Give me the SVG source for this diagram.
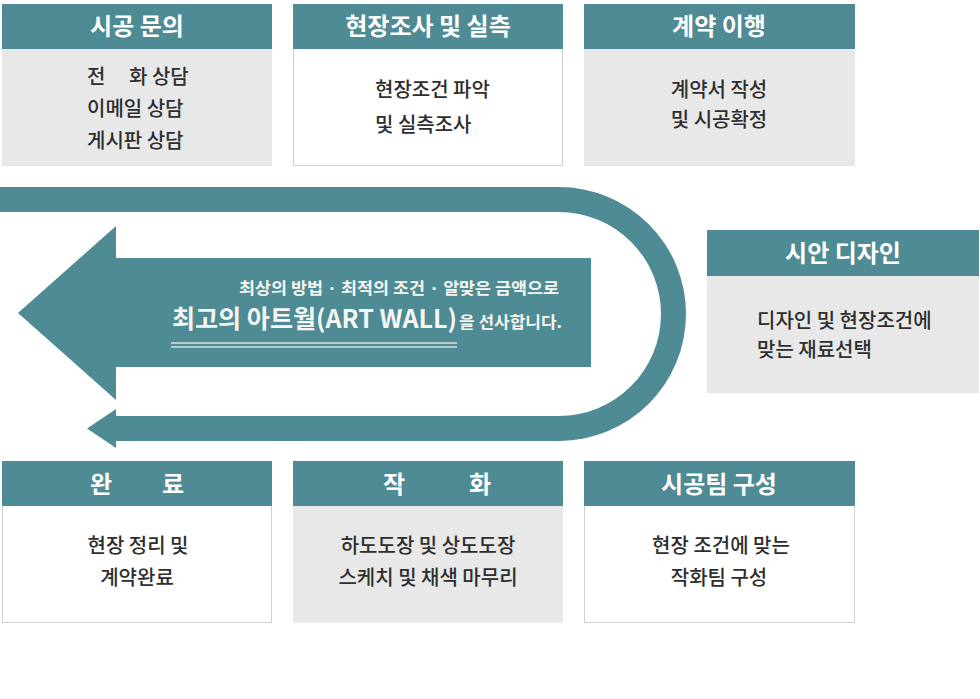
<svg xmlns="http://www.w3.org/2000/svg" width="980" height="699" viewBox="0 0 980 699">
<style>
text{font-family:"Noto Sans CJK KR","Noto Sans",sans-serif}
.hd{fill:#4f8b94}
.gray{fill:#e8e8e8}
.white{fill:#ffffff;stroke:#cfcfcf;stroke-width:1}
.ht{fill:#ffffff;font-size:24px;font-weight:bold;text-anchor:middle}
.hs{fill:#ffffff;font-size:24px;font-weight:bold}
.bt{fill:#2e2e2e;font-size:20px;font-weight:500}
.c{text-anchor:middle}
.teal{fill:#4f8b94}
.wt{fill:#f6f6f2;font-weight:bold}
</style>
<rect width="980" height="699" fill="#ffffff"/>

<g id="connectors">
<path class="teal" d="M0,187 H559 A127,127 0 0 1 559,441 H116 V448 L87,428.5 L116,409 V416 H559 A102,102 0 0 0 559,212 H0 Z"/>
</g>

<g id="banner">
<polygon class="teal" points="18,313 116,226 116,258 591,258 591,367 116,367 116,400"/>
<text class="wt" x="239" y="294" font-size="16" textLength="320" lengthAdjust="spacingAndGlyphs">최상의 방법 · 최적의 조건 · 알맞은 금액으로</text>
<text class="wt" x="172" y="328" font-size="25" font-weight="500" textLength="285" lengthAdjust="spacingAndGlyphs">최고의 아트월(ART WALL)</text>
<text class="wt" x="459" y="328" font-size="16" textLength="103" lengthAdjust="spacingAndGlyphs">을 선사합니다.</text>
<line x1="171" y1="343" x2="457" y2="343" stroke="#d4e1e3" stroke-width="1.5"/>
<line x1="171" y1="347" x2="457" y2="347" stroke="#d4e1e3" stroke-width="1.5"/>
</g>

<g id="node-inquiry">
<rect class="gray" x="2" y="4" width="270" height="162"/>
<rect class="hd" x="2" y="4" width="270" height="45"/>
<text class="ht" x="137" y="35">시공 문의</text>
<text class="bt" x="87" y="84">전 <tspan x="129">화 상담</tspan></text>
<text class="bt" x="87" y="116">이메일 상담</text>
<text class="bt" x="87" y="148">게시판 상담</text>
</g>

<g id="node-survey">
<rect class="white" x="293.5" y="4.5" width="269" height="161"/>
<rect class="hd" x="293" y="4" width="270" height="45"/>
<text class="ht" x="428" y="35">현장조사 및 실측</text>
<text class="bt" x="375" y="97">현장조건 파악</text>
<text class="bt" x="375" y="132">및 실측조사</text>
</g>

<g id="node-contract">
<rect class="gray" x="584" y="4" width="271" height="162"/>
<rect class="hd" x="584" y="4" width="271" height="45"/>
<text class="ht" x="719" y="35">계약 이행</text>
<text class="bt c" x="719" y="97">계약서 작성</text>
<text class="bt c" x="719" y="127">및 시공확정</text>
</g>

<g id="node-design">
<rect class="gray" x="707" y="230" width="272" height="163"/>
<rect class="hd" x="707" y="230" width="272" height="46"/>
<text class="ht" x="843" y="262">시안 디자인</text>
<text class="bt" x="757" y="328">디자인 및 현장조건에</text>
<text class="bt" x="757" y="357">맞는 재료선택</text>
</g>

<g id="node-team">
<rect class="white" x="584.5" y="461.5" width="270" height="161"/>
<rect class="hd" x="584" y="461" width="271" height="45"/>
<text class="ht" x="719" y="493">시공팀 구성</text>
<text class="bt c" x="721" y="553">현장 조건에 맞는</text>
<text class="bt c" x="719" y="585">작화팀 구성</text>
</g>

<g id="node-painting">
<rect class="gray" x="293" y="461" width="270" height="162"/>
<rect class="hd" x="293" y="461" width="270" height="45"/>
<text class="hs" x="383" y="493">작 <tspan x="469">화</tspan></text>
<text class="bt c" x="428" y="553">하도도장 및 상도도장</text>
<text class="bt c" x="428" y="585">스케치 및 채색 마무리</text>
</g>

<g id="node-complete">
<rect class="white" x="2.5" y="461.5" width="269" height="161"/>
<rect class="hd" x="2" y="461" width="270" height="45"/>
<text class="hs" x="90" y="493">완 <tspan x="162">료</tspan></text>
<text class="bt c" x="138" y="553">현장 정리 및</text>
<text class="bt c" x="137" y="585">계약완료</text>
</g>
</svg>
